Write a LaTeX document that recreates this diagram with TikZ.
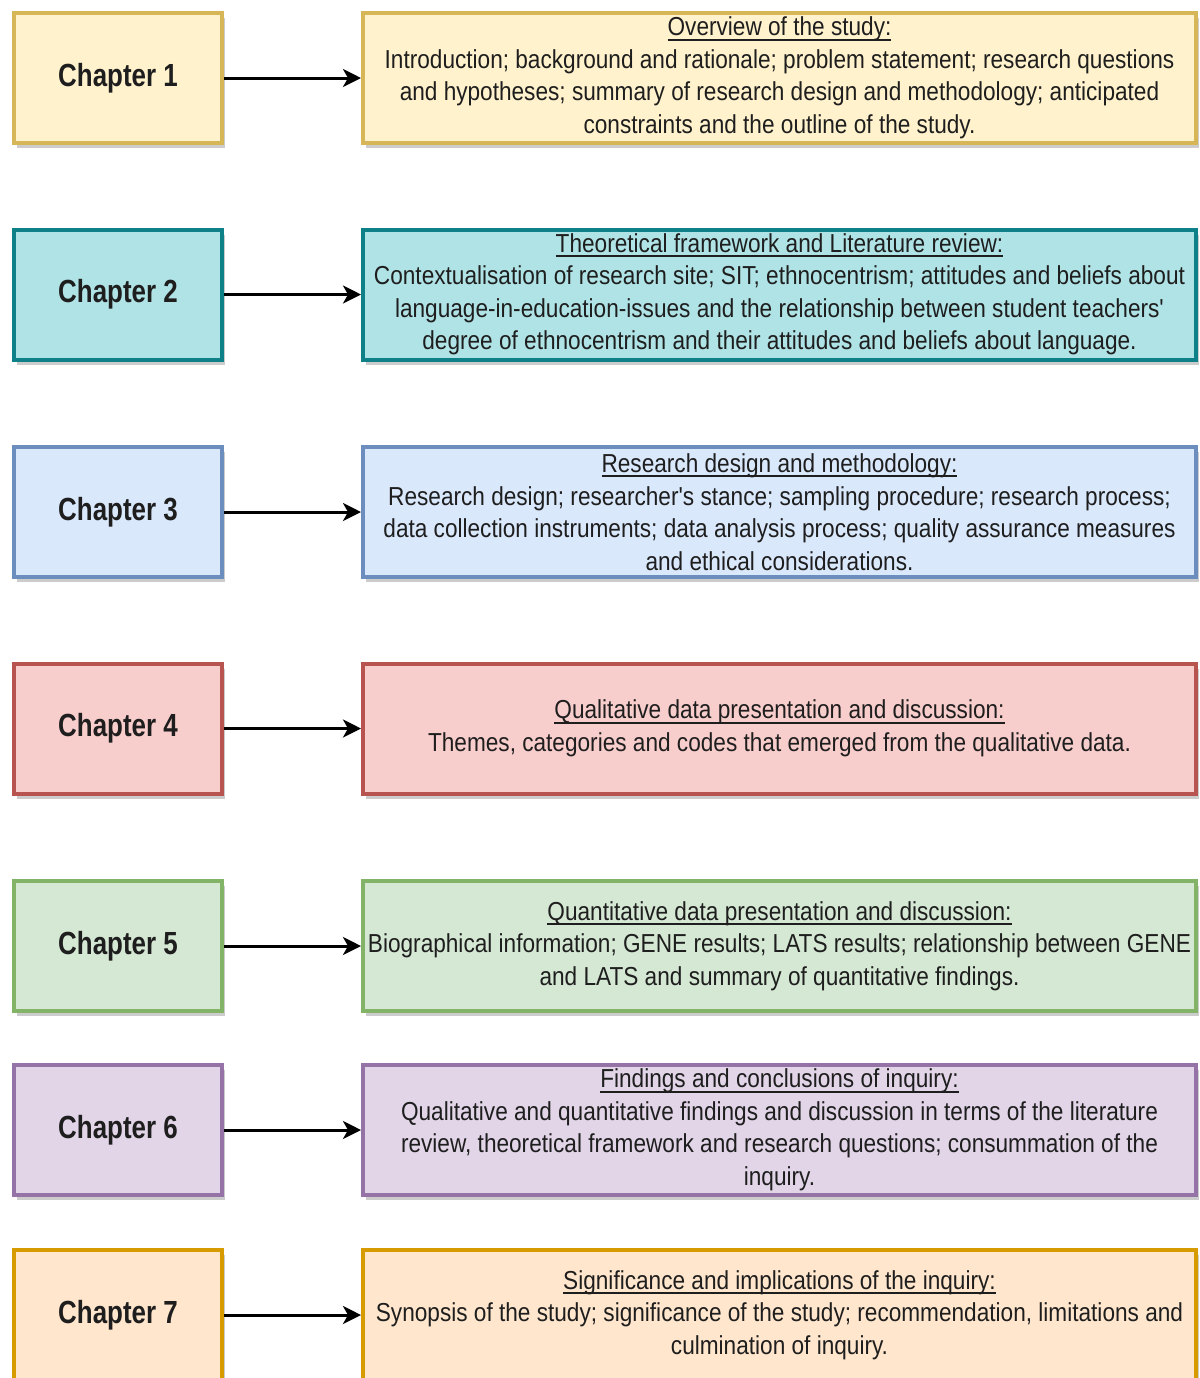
\documentclass[tikz,border=0pt]{standalone}
\usepackage{fontspec}
\setmainfont[FakeStretch=0.81]{Liberation Sans}
\newfontfamily\bodyfont[FakeStretch=0.87]{Liberation Sans}
\usetikzlibrary{arrows.meta,shadows}

\definecolor{fillA}{HTML}{FFF2CC}\definecolor{lineA}{HTML}{D6B656}
\definecolor{fillB}{HTML}{B0E3E6}\definecolor{lineB}{HTML}{0E8088}
\definecolor{fillC}{HTML}{DAE8FC}\definecolor{lineC}{HTML}{6C8EBF}
\definecolor{fillD}{HTML}{F8CECC}\definecolor{lineD}{HTML}{B85450}
\definecolor{fillE}{HTML}{D5E8D4}\definecolor{lineE}{HTML}{82B366}
\definecolor{fillF}{HTML}{E1D5E7}\definecolor{lineF}{HTML}{9673A6}
\definecolor{fillG}{HTML}{FFE6CC}\definecolor{lineG}{HTML}{D79B00}
\definecolor{ink}{HTML}{1E1E1E}

% heading with a firm underline
\newcommand{\headline}[1]{\setbox0=\hbox{#1}\rlap{\rule[-2.3pt]{\wd0}{0.9pt}}\box0}

\tikzset{
  boxshadow/.style={drop shadow={shadow xshift=1.5pt, shadow yshift=-2.5pt, fill=black, opacity=0.2}},
  chapbox/.style={draw, line width=2pt, minimum width=104pt, minimum height=65pt,
    inner sep=0pt, text=ink, font=\fontsize{16}{19}\selectfont\bfseries, boxshadow},
  descbox/.style={draw, line width=2pt, minimum width=416.5pt, minimum height=65pt,
    inner sep=0pt, align=center, text=ink, font=\bodyfont\fontsize{13}{16.25}\selectfont, boxshadow},
  link/.style={-{Stealth[length=9pt, width=9pt, inset=2.5pt]}, line width=1.5pt, black},
  tA/.style={fill=fillA, draw=lineA}, tB/.style={fill=fillB, draw=lineB},
  tC/.style={fill=fillC, draw=lineC}, tD/.style={fill=fillD, draw=lineD},
  tE/.style={fill=fillE, draw=lineE}, tF/.style={fill=fillF, draw=lineF},
  tG/.style={fill=fillG, draw=lineG}
}

\begin{document}
\begin{tikzpicture}[x=0.5pt, y=-0.5pt]
\useasboundingbox (0,0) rectangle (1200,1378);

% Chapter 1
\node[chapbox, tA] (c1) at (118,78) {Chapter 1};
\node[descbox, tA] (d1) at (779.5,78) {\headline{Overview of the study:}\\
Introduction; background and rationale; problem statement; research questions\\
and hypotheses; summary of research design and methodology; anticipated\\
constraints and the outline of the study.};
\draw[link] (c1) -- (d1);

% Chapter 2
\node[chapbox, tB] (c2) at (118,294.5) {Chapter 2};
\node[descbox, tB] (d2) at (779.5,294.5) {\headline{Theoretical framework and Literature review:}\\
Contextualisation of research site; SIT; ethnocentrism; attitudes and beliefs about\\
language-in-education-issues and the relationship between student teachers'\\
degree of ethnocentrism and their attitudes and beliefs about language.};
\draw[link] (c2) -- (d2);

% Chapter 3
\node[chapbox, tC] (c3) at (118,512) {Chapter 3};
\node[descbox, tC] (d3) at (779.5,512) {\headline{Research design and methodology:}\\
Research design; researcher's stance; sampling procedure; research process;\\
data collection instruments; data analysis process; quality assurance measures\\
and ethical considerations.};
\draw[link] (c3) -- (d3);

% Chapter 4
\node[chapbox, tD] (c4) at (118,728.5) {Chapter 4};
\node[descbox, tD] (d4) at (779.5,728.5) {\headline{Qualitative data presentation and discussion:}\\
Themes, categories and codes that emerged from the qualitative data.};
\draw[link] (c4) -- (d4);

% Chapter 5
\node[chapbox, tE] (c5) at (118,946) {Chapter 5};
\node[descbox, tE] (d5) at (779.5,946) {\headline{Quantitative data presentation and discussion:}\\
Biographical information; GENE results; LATS results; relationship between GENE\\
and LATS and summary of quantitative findings.};
\draw[link] (c5) -- (d5);

% Chapter 6
\node[chapbox, tF] (c6) at (118,1130) {Chapter 6};
\node[descbox, tF] (d6) at (779.5,1130) {\headline{Findings and conclusions of inquiry:}\\
Qualitative and quantitative findings and discussion in terms of the literature\\
review, theoretical framework and research questions; consummation of the\\
inquiry.};
\draw[link] (c6) -- (d6);

% Chapter 7
\node[chapbox, tG] (c7) at (118,1315) {Chapter 7};
\node[descbox, tG] (d7) at (779.5,1315) {\headline{Significance and implications of the inquiry:}\\
Synopsis of the study; significance of the study; recommendation, limitations and\\
culmination of inquiry.};
\draw[link] (c7) -- (d7);
\end{tikzpicture}
\end{document}
